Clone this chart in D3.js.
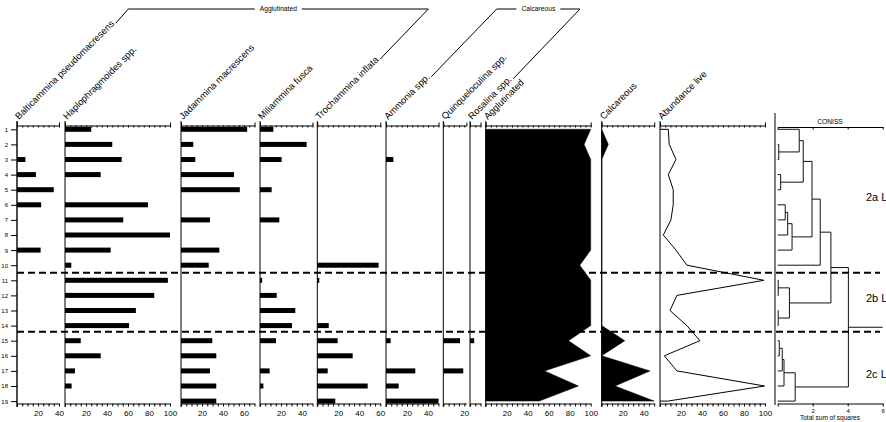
<!DOCTYPE html>
<html><head><meta charset="utf-8">
<script src="https://cdn.jsdelivr.net/npm/d3@7"></script>
<style>
body{margin:0;background:#fff}
svg{display:block}
text{font-family:"Liberation Sans",Arial,sans-serif;fill:#000}
</style>
</head><body>
<svg id="c" width="886" height="422"></svg>
<script>
// ---------------- DATA ----------------
const samples = d3.range(1, 20); // sample numbers 1..19
const taxa = ["Balticammina pseudomacresens","Haplophragmoides spp.","Jadammina macrescens","Miliammina fusca","Trochammina inflata","Ammonia spp.","Quinqueloculina spp.","Rosalina spp."];
const balticammina     = [0,0,8,18,35,23,0,0,22.5,0,0,0,0,0,0,0,0,0,0];
const haplophragmoides = [25,45,54,34,0,79,55.5,100,43.5,6,98,85,67.5,61,15,34,9.5,6.3,0];
const jadammina        = [63,11.7,13.6,50.5,56,0,27.6,0,36.5,26.4,0,0,0,0,29.8,33.6,27.6,33.6,33.6];
const miliammina       = [12.7,44.4,20.6,0,11.1,0,18.4,0,0,0,2,15.9,33.6,30.5,15.2,0,9.2,3.2,0];
const trochammina      = [0,0,0,0,0,0,0,0,0,58.4,1.9,0,0,10.9,19.4,33.7,9.9,48,17.1];
const ammonia          = [0,0,7,0,0,0,0,0,0,0,0,0,0,0,4.4,0,27.9,12.1,50];
const quinqueloculina  = [0,0,0,0,0,0,0,0,0,0,0,0,0,0,15.9,0,19,0,0];
const rosalina         = [0,0,0,0,0,0,0,0,0,0,0,0,0,0,4,0,0,0,0];
const agglutinated     = [100,93.7,100,100,100,100,100,100,100,89.6,100,100,100,100,78.9,100,56,88.3,51];
const calcareous       = [0,6.3,0,0,0,0,0,0,0,0,0,0,0,0,22,0,46,12.7,50];
const abundanceLive    = [7.9,8.8,15.2,7.9,12.6,12.6,10.4,3.2,15.2,25.6,99,16.1,9.5,25.6,38,4.1,16.1,99.6,7.3];
const sumHeaders = ["Agglutinated","Calcareous","Abundance live"];
const groups = [{name:"Agglutinated", from:0, to:4},{name:"Calcareous", from:5, to:7}];
const panelMax = [40,100,70,50,60,50,22,10,100,50,100];
// CONISS merges: [left, right, height]; numbers = samples, "cN" = N-th merge
const conissMerges = [
  [2,3,0.06],["c0",1,1.23],[4,5,0.17],["c1","c2",1.46],
  [6,7,0.43],["c4",8,0.57],["c5",9,0.82],["c3","c6",1.96],["c7",10,2.43],
  [11,12,0.03],[13,14,0.03],["c9","c10",0.67],["c8","c11",3.04],
  [15,16,0.09],["c13",17,0.26],["c14",18,0.36],["c15",19,1.0],["c12","c16",4.04]
];
const conissTicks = [0,2,4,6];
const zoneBounds = [10.5, 14.4];
const zoneNames = ["2a L","2b L","2c L"];
const zoneLabelRows = [5.5, 12.2, 17.2];

// ---------------- LAYOUT ----------------
const svg = d3.select("#c");
const FONT = '"Liberation Sans",Arial,sans-serif';
const y = d3.scaleLinear().domain([1,19]).range([129.3,401.1]);
const K = 1.05, TOP = 125.5, BOT = 403.5;
const panelLeft = [17,65,181,260,317.3,386,443.3,470,485.7,601.7,660];
const xs = panelLeft.map((l,i)=>d3.scaleLinear().domain([0,panelMax[i]]).range([l, l+panelMax[i]*K]));
const barSeries = [balticammina,haplophragmoides,jadammina,miliammina,trochammina,ammonia,quinqueloculina,rosalina];
const headers = taxa.concat(sumHeaders);
const bracketCorners = [[128.3,428.3],[496.7,580]];

function styleAxis(g, fs){
  g.attr("font-family", FONT);
  g.selectAll("text").attr("font-size", fs).attr("fill","#000");
  g.selectAll("path,line").attr("stroke","#000");
}

// panels: axes + vertical lines
xs.forEach((x,i)=>{
  const max = panelMax[i];
  const tv = d3.range(0, max+0.001, 5);
  const gb = svg.append("g").attr("transform",`translate(0,${BOT})`)
    .call(d3.axisBottom(x).tickValues(tv).tickSize(3).tickSizeOuter(0).tickPadding(4)
      .tickFormat(d=> (d>0 && d%20===0) ? d : ""));
  styleAxis(gb, 8);
  const gt = svg.append("g").attr("transform",`translate(0,${TOP})`)
    .call(d3.axisTop(x).tickValues(tv).tickSize(-2).tickSizeOuter(3).tickFormat(""));
  styleAxis(gt, 8);
  svg.append("line").attr("x1",x(0)).attr("x2",x(0)).attr("y1",121).attr("y2",407)
    .attr("stroke","#000").attr("stroke-width", i===0?1.4:1);
});

// row axis
const gr = svg.append("g").attr("transform",`translate(${panelLeft[0]},0)`)
  .call(d3.axisLeft(y).tickValues(samples).tickSize(6).tickFormat(d3.format("d")));
gr.select(".domain").remove();
styleAxis(gr, 6);

// bars
barSeries.forEach((ser,i)=>{
  const x = xs[i];
  svg.append("g").selectAll("rect").data(ser.map((v,j)=>({v,s:samples[j]})).filter(d=>d.v>0))
    .join("rect")
    .attr("x", x(0)).attr("y", d=>y(d.s)-2.5)
    .attr("width", d=>x(d.v)-x(0)).attr("height",5).attr("fill","#000");
});

// areas
[[agglutinated,8],[calcareous,9]].forEach(([ser,i])=>{
  const x = xs[i];
  const area = d3.area().y(d=>y(d.s)).x0(x(0)).x1(d=>x(d.v));
  svg.append("path").datum(ser.map((v,j)=>({v,s:samples[j]})))
    .attr("d", area).attr("fill","#000").attr("stroke","#000").attr("stroke-width",0.5);
});

// abundance line
{
  const x = xs[10];
  const pts = [{v:0,s:samples[0]}].concat(abundanceLive.map((v,j)=>({v,s:samples[j]})), [{v:0,s:samples[samples.length-1]}]);
  svg.append("path").datum(pts).attr("d", d3.line().x(d=>x(d.v)).y(d=>y(d.s)))
    .attr("fill","none").attr("stroke","#000").attr("stroke-width",1);
}

// header labels
const labelEnds = [];
headers.forEach((h,i)=>{
  const x0 = panelLeft[i]+2, y0 = 120;
  const t = svg.append("text").attr("transform",`translate(${x0},${y0}) rotate(-45)`)
    .attr("font-size",9.4).text(h);
  const L = t.node().getComputedTextLength();
  labelEnds.push([x0 + L*Math.SQRT1_2, y0 - L*Math.SQRT1_2]);
});

// group brackets
groups.forEach((g,gi)=>{
  const [lx, rx] = bracketCorners[gi];
  const a = labelEnds[g.from], b = labelEnds[g.to];
  const cx = (lx+rx)/2, ty = 9;
  const t = svg.append("text").attr("x",cx).attr("y",ty+2.3).attr("text-anchor","middle")
    .attr("font-size",6.7).text(g.name);
  const w = t.node().getComputedTextLength();
  const p = d3.path();
  p.moveTo(a[0]+1, a[1]-1); p.lineTo(lx, ty); p.lineTo(cx - w/2 - 5, ty);
  p.moveTo(cx + w/2 + 5, ty); p.lineTo(rx, ty); p.lineTo(b[0]+1, b[1]-1);
  svg.append("path").attr("d", p.toString()).attr("fill","none").attr("stroke","#000").attr("stroke-width",1);
});

// CONISS
const xc = d3.scaleLinear().domain([0,6]).range([777.7,882.7]);
svg.append("line").attr("x1",775).attr("x2",775).attr("y1",113).attr("y2",405).attr("stroke","#000");
{
  const gt = svg.append("g").attr("transform",`translate(0,127)`)
    .call(d3.axisTop(xc).tickValues(conissTicks).tickSize(-2.5).tickSizeOuter(0).tickFormat(""));
  styleAxis(gt,6);
  const gb = svg.append("g").attr("transform",`translate(0,${BOT})`)
    .call(d3.axisBottom(xc).tickValues(conissTicks).tickSize(3).tickSizeOuter(0).tickPadding(2)
      .tickFormat(d=> d>0 ? d : ""));
  styleAxis(gb,6);
  svg.append("text").attr("x",830).attr("y",124).attr("text-anchor","middle").attr("font-size",6.7).text("CONISS");
  svg.append("text").attr("x",830).attr("y",420).attr("text-anchor","middle").attr("font-size",6.5).text("Total sum of squares");

  const nodes = {};
  samples.forEach(s=> nodes[s] = {y:y(s), h:0});
  const dg = svg.append("g").attr("fill","none").attr("stroke","#111").attr("stroke-width",1);
  conissMerges.forEach((m,k)=>{
    const A = nodes[m[0]], B = nodes[m[1]], h = m[2];
    const p = d3.path();
    p.moveTo(xc(A.h), A.y); p.lineTo(xc(h), A.y);
    p.moveTo(xc(B.h), B.y); p.lineTo(xc(h), B.y);
    p.moveTo(xc(h), A.y); p.lineTo(xc(h), B.y);
    dg.append("path").attr("d", p.toString());
    nodes["c"+k] = {y:(A.y+B.y)/2, h};
  });
  const root = nodes["c"+(conissMerges.length-1)];
  dg.append("line").attr("x1",xc(root.h)).attr("x2",xc(6)).attr("y1",root.y).attr("y2",root.y);
}

// zone boundaries
svg.append("g").selectAll("line").data(zoneBounds).join("line")
  .attr("x1",17).attr("x2",880).attr("y1",d=>y(d)).attr("y2",d=>y(d))
  .attr("stroke","#000").attr("stroke-width",2).attr("stroke-dasharray","7,4");

// zone labels
svg.append("g").selectAll("text").data(zoneNames).join("text")
  .attr("x",866).attr("y",(d,i)=>y(zoneLabelRows[i])+4)
  .attr("font-size",11).text(d=>d);
</script>
</body></html>
